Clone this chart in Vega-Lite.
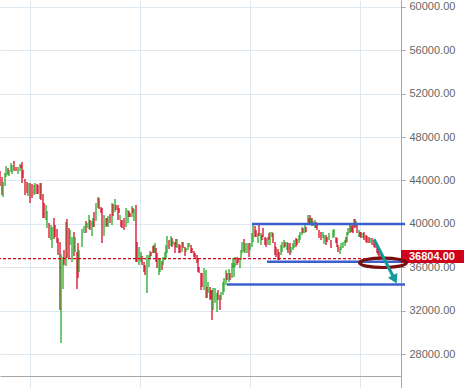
{
"$schema":"https://vega.github.io/schema/vega-lite/v6.json",
"width":401,"height":376,
"autosize":{"type":"none"},
"padding":{"left":0,"top":0,"right":63,"bottom":12},
"background":"white",
"config":{"view":{"stroke":null},"font":"Liberation Sans"},
"datasets":{
"candles":[
{"t":0,"o":44880,"c":43490},{"t":2,"o":44320,"c":42670},{"t":3,"o":42480,"c":43860},{"t":5,"o":43490,"c":44690},{"t":6,"o":44320,"c":45340},{"t":8,"o":45150,"c":44510},{"t":9,"o":44410,"c":44970},{"t":11,"o":44780,"c":45610},{"t":12,"o":44600,"c":45430},{"t":14,"o":45800,"c":44880},{"t":16,"o":45240,"c":44880},{"t":18,"o":44600,"c":45240},{"t":20,"o":44880,"c":45520},{"t":21,"o":45430,"c":45150},{"t":22,"o":45700,"c":43770},{"t":23,"o":44970,"c":44230},{"t":25,"o":44140,"c":42670},{"t":27,"o":43860,"c":42850},{"t":28,"o":42570,"c":43770},{"t":30,"o":43770,"c":41930},{"t":32,"o":43680,"c":42390},{"t":34,"o":42670,"c":43590},{"t":35,"o":42760,"c":43770},{"t":37,"o":43680,"c":42760},{"t":38,"o":43590,"c":42760},{"t":40,"o":42300,"c":43770},{"t":41,"o":43770,"c":42210},{"t":43,"o":42760,"c":40550},{"t":44,"o":41930,"c":40550},{"t":46,"o":40360,"c":41750},{"t":47,"o":39630,"c":41190},{"t":49,"o":40090,"c":38710},{"t":51,"o":38520,"c":39900},{"t":52,"o":37790,"c":39720},{"t":54,"o":40550,"c":38620},{"t":55,"o":39900,"c":38800},{"t":57,"o":39540,"c":38250},{"t":58,"o":38710,"c":37140},{"t":60,"o":38340,"c":32080},{"t":61,"o":29040,"c":37230},{"t":63,"o":34010,"c":36960},{"t":64,"o":37600,"c":36220},{"t":66,"o":36130,"c":40180},{"t":67,"o":40460,"c":36870},{"t":69,"o":39630,"c":36870},{"t":70,"o":38060,"c":39440},{"t":72,"o":36500,"c":38800},{"t":74,"o":39260,"c":37050},{"t":75,"o":37420,"c":38800},{"t":77,"o":37420,"c":34010},{"t":78,"o":38250,"c":35030},{"t":79,"o":35580,"c":37600},
{"t":82,"o":37880,"c":39540},{"t":84,"o":39170,"c":39810},{"t":86,"o":40270,"c":39170},{"t":87,"o":39630,"c":40090},{"t":89,"o":39540,"c":40820},{"t":90,"o":40360,"c":39440},{"t":92,"o":38890,"c":40270},{"t":93,"o":39720,"c":40550},{"t":94,"o":41100,"c":39720},{"t":96,"o":40270,"c":41930},{"t":98,"o":41470,"c":42480},{"t":99,"o":42390,"c":41380},{"t":101,"o":41560,"c":41010},{"t":102,"o":41470,"c":38250},{"t":104,"o":38890,"c":40820},{"t":106,"o":39720,"c":40550},{"t":107,"o":40550,"c":39810},{"t":108,"o":39720,"c":40730},{"t":110,"o":40920,"c":40090},{"t":112,"o":39900,"c":41930},{"t":113,"o":41840,"c":40730},{"t":115,"o":41100,"c":42300},{"t":116,"o":41750,"c":41280},{"t":118,"o":41750,"c":40360},{"t":119,"o":41470,"c":41010},{"t":120,"o":40360,"c":40820},{"t":121,"o":40360,"c":39720},{"t":122,"o":40360,"c":39630},{"t":124,"o":40550,"c":39440},{"t":126,"o":39720,"c":41470},{"t":128,"o":40090,"c":41280},{"t":129,"o":41190,"c":40640},{"t":130,"o":41010,"c":40640},{"t":132,"o":40640,"c":41650},{"t":133,"o":41470,"c":41010},{"t":134,"o":40270,"c":41380},{"t":136,"o":41750,"c":36500},{"t":137,"o":38340,"c":36500},{"t":139,"o":36220,"c":37880},{"t":141,"o":36500,"c":37420},{"t":142,"o":37050,"c":36220},{"t":144,"o":36500,"c":35580},{"t":145,"o":36220,"c":35300},{"t":147,"o":33640,"c":37140},{"t":149,"o":36040,"c":37140},{"t":150,"o":36870,"c":37510},{"t":151,"o":37420,"c":37050},{"t":153,"o":37970,"c":37330},{"t":154,"o":38060,"c":37330},{"t":155,"o":37330,"c":38250},{"t":156,"o":37790,"c":36500},{"t":157,"o":37330,"c":35950},
{"t":159,"o":35300,"c":36770},{"t":160,"o":35580,"c":36870},{"t":162,"o":36590,"c":35760},{"t":163,"o":36220,"c":36960},{"t":165,"o":36680,"c":37420},{"t":166,"o":36770,"c":38060},{"t":167,"o":37330,"c":38890},{"t":169,"o":38520,"c":37700},{"t":171,"o":37970,"c":38890},{"t":172,"o":38710,"c":37880},{"t":173,"o":38060,"c":38430},{"t":175,"o":38340,"c":37330},{"t":176,"o":38620,"c":37880},{"t":177,"o":37790,"c":38620},{"t":179,"o":38160,"c":37330},{"t":180,"o":38060,"c":37330},{"t":182,"o":37420,"c":38340},{"t":183,"o":38340,"c":37790},{"t":185,"o":37880,"c":37050},{"t":186,"o":37420,"c":37790},{"t":188,"o":37600,"c":38250},{"t":189,"o":37880,"c":38250},{"t":191,"o":38060,"c":37330},{"t":192,"o":37790,"c":37330},{"t":194,"o":37510,"c":36960},{"t":195,"o":37330,"c":36870},{"t":197,"o":37140,"c":36410},{"t":198,"o":36870,"c":35580},{"t":199,"o":36040,"c":35490},{"t":201,"o":35490,"c":33920},{"t":202,"o":35490,"c":34200},{"t":204,"o":33920,"c":35950},{"t":206,"o":33180,"c":35760},{"t":207,"o":34200,"c":33180},{"t":208,"o":33640,"c":34660},{"t":210,"o":34200,"c":33000},{"t":211,"o":33920,"c":33090},{"t":212,"o":33920,"c":31160},{"t":213,"o":32080,"c":34100},{"t":215,"o":32720,"c":34100},{"t":217,"o":31900,"c":33640},{"t":218,"o":33920,"c":33000},{"t":220,"o":33460,"c":32080},{"t":221,"o":33000,"c":33740},{"t":223,"o":33460,"c":34660},{"t":224,"o":33740,"c":35030},{"t":226,"o":34380,"c":35760},{"t":227,"o":35490,"c":34840},{"t":229,"o":34660,"c":35850},{"t":230,"o":35490,"c":34840},{"t":232,"o":35030,"c":36410},{"t":233,"o":35950,"c":36870},{"t":234,"o":35120,"c":36410},{"t":235,"o":36040,"c":36960},
{"t":237,"o":36960,"c":36220},{"t":238,"o":36870,"c":36410},{"t":240,"o":35950,"c":36870},{"t":241,"o":36680,"c":37600},{"t":242,"o":37330,"c":38340},{"t":244,"o":38620,"c":37420},{"t":245,"o":37330,"c":38250},{"t":247,"o":37330,"c":38250},{"t":249,"o":38250,"c":36960},{"t":250,"o":37600,"c":38250},{"t":252,"o":37880,"c":39170},{"t":253,"o":38340,"c":39900},{"t":255,"o":39810,"c":38800},{"t":256,"o":39440,"c":38800},{"t":258,"o":38250,"c":39170},{"t":259,"o":39900,"c":38890},{"t":261,"o":38060,"c":39170},{"t":262,"o":38980,"c":38520},{"t":263,"o":39630,"c":38800},{"t":265,"o":38800,"c":38060},{"t":266,"o":38710,"c":37880},{"t":268,"o":38060,"c":38800},{"t":269,"o":39170,"c":38520},{"t":270,"o":38060,"c":39260},{"t":272,"o":38800,"c":39260},{"t":273,"o":39170,"c":38250},{"t":275,"o":38340,"c":37140},{"t":276,"o":37880,"c":36960},{"t":278,"o":37700,"c":36680},{"t":279,"o":37420,"c":36680},{"t":281,"o":37140,"c":38060},{"t":282,"o":37420,"c":38340},{"t":284,"o":37790,"c":38520},{"t":285,"o":38340,"c":37880},{"t":287,"o":37600,"c":38340},{"t":288,"o":38250,"c":37330},{"t":290,"o":38250,"c":37140},{"t":291,"o":37330,"c":37880},{"t":293,"o":37600,"c":38250},{"t":294,"o":37790,"c":38520},{"t":296,"o":38710,"c":37880},{"t":297,"o":38620,"c":38060},{"t":299,"o":38250,"c":38980},{"t":300,"o":38520,"c":39260},{"t":302,"o":38980,"c":39720},{"t":303,"o":39630,"c":39170},{"t":305,"o":39170,"c":39900},{"t":306,"o":39720,"c":39260},{"t":308,"o":39900,"c":40820},{"t":309,"o":40550,"c":39900},{"t":310,"o":40820,"c":40000},{"t":311,"o":39900,"c":40550},{"t":312,"o":40550,"c":39810},
{"t":313,"o":39810,"c":40270},{"t":315,"o":39630,"c":40360},{"t":316,"o":40180,"c":39630},{"t":317,"o":39900,"c":39440},{"t":319,"o":39440,"c":38710},{"t":321,"o":39260,"c":38520},{"t":323,"o":38710,"c":39260},{"t":324,"o":38160,"c":38980},{"t":326,"o":38980,"c":38060},{"t":327,"o":38800,"c":38340},{"t":329,"o":38520,"c":39170},{"t":331,"o":38520,"c":37790},{"t":333,"o":38710,"c":39440},{"t":334,"o":38800,"c":39540},{"t":336,"o":38800,"c":38250},{"t":337,"o":38710,"c":37880},{"t":338,"o":38060,"c":37420},{"t":340,"o":37230,"c":37880},{"t":341,"o":37600,"c":38250},{"t":343,"o":37790,"c":38340},{"t":345,"o":37970,"c":38520},{"t":346,"o":38800,"c":38250},{"t":347,"o":38340,"c":39260},{"t":348,"o":38980,"c":39630},{"t":350,"o":40090,"c":39170},{"t":351,"o":39260,"c":39900},{"t":352,"o":39810,"c":39260},{"t":353,"o":40090,"c":39170},{"t":354,"o":39720,"c":40460},{"t":355,"o":40460,"c":39630},{"t":356,"o":39720,"c":40270},{"t":357,"o":40090,"c":39170},{"t":359,"o":38800,"c":39440},{"t":360,"o":39260,"c":38800},{"t":361,"o":39260,"c":38710},{"t":363,"o":38710,"c":39170},{"t":364,"o":39260,"c":38520},{"t":366,"o":38980,"c":38340},{"t":367,"o":38890,"c":38250},{"t":369,"o":38800,"c":38250},{"t":370,"o":38250,"c":38710},{"t":372,"o":38710,"c":38060},{"t":374,"o":38430,"c":37880},{"t":375,"o":38520,"c":37790},{"t":377,"o":38250,"c":37330},{"t":378,"o":37790,"c":37140},{"t":379,"o":37600,"c":36870},{"t":381,"o":37330,"c":36804}
],
"levels":[{"from":252,"to":405,"price":40000},{"from":267,"to":405,"price":36520},{"from":227,"to":405,"price":34430}],
"last":[{"price":36804,"label":"36804.00"}],
"arrow":[{"t1":374,"p1":38590,"t2":394.5,"p2":34930}],
"head":[{"t":394.7,"p":34900}],
"ring":[{"t":383,"p":36420}]
},
"layer":[
{"data":{"name":"candles"},
 "mark":{"type":"rule","strokeWidth":1.25},
 "encoding":{
  "x":{"field":"t","type":"quantitative","scale":{"domain":[0,401],"nice":false,"zero":false},
   "axis":{"values":[30,140,250,360,401],"labels":false,"title":null,"tickSize":12,"grid":true,
    "tickColor":{"condition":{"test":"datum.value == 401","value":"#a6a6a6"},"value":"#dde8f0"},
    "gridColor":{"condition":{"test":"datum.value == 401","value":"#a6a6a6"},"value":"#dde8f0"},
    "domainColor":"#a6a6a6"}},
  "y":{"field":"o","type":"quantitative","scale":{"domain":[26000,60617],"nice":false,"zero":false},
   "axis":{"orient":"right","values":[28000,32000,36000,40000,44000,48000,52000,56000,60000],"format":".2f","title":null,
    "tickSize":4,"tickColor":"#a6a6a6","domainColor":"#a6a6a6","gridColor":"#dde8f0","grid":true,
    "labelColor":"#666666","labelFontSize":11,"labelPadding":4,"labelFont":"Liberation Sans"}},
  "y2":{"field":"c"},
  "color":{"condition":{"test":"datum.c >= datum.o","value":"#1ea71e"},"value":"#d6001c"}
 }},
{"data":{"name":"last"},
 "mark":{"type":"rule","color":"#d6001c","strokeDash":[3,2],"strokeWidth":1.2},
 "encoding":{"y":{"field":"price","type":"quantitative"}}},
{"data":{"name":"levels"},
 "mark":{"type":"rule","color":"#3b5fcc","strokeWidth":2.4},
 "encoding":{"x":{"field":"from","type":"quantitative"},"x2":{"field":"to"},"y":{"field":"price","type":"quantitative"}}},
{"data":{"name":"last"},
 "mark":{"type":"rect","color":"#d0021b"},
 "encoding":{"x":{"datum":401},"x2":{"datum":470},"y":{"datum":37600},"y2":{"datum":36400}}},
{"data":{"name":"last"},
 "mark":{"type":"text","align":"left","baseline":"middle","dx":8,"dy":-2,"fontSize":11,"fontWeight":"bold","color":"white","font":"Liberation Sans"},
 "encoding":{"x":{"datum":401},"y":{"field":"price","type":"quantitative"},"text":{"field":"label"}}},
{"data":{"name":"ring"},
 "mark":{"type":"point","shape":"M-1,0A1,0.2,0,1,0,1,0A1,0.2,0,1,0,-1,0Z","size":2200,"filled":false,"stroke":"#7a0d0d","strokeWidth":3.2,"opacity":1},
 "encoding":{"x":{"field":"t","type":"quantitative"},"y":{"field":"p","type":"quantitative"}}},
{"data":{"name":"arrow"},
 "mark":{"type":"rule","color":"#14999b","strokeWidth":3},
 "encoding":{"x":{"field":"t1","type":"quantitative"},"y":{"field":"p1","type":"quantitative"},"x2":{"field":"t2"},"y2":{"field":"p2"}}},
{"data":{"name":"head"},
 "mark":{"type":"point","shape":"triangle-down","size":110,"angle":333,"filled":true,"color":"#14999b","opacity":1},
 "encoding":{"x":{"field":"t","type":"quantitative"},"y":{"field":"p","type":"quantitative"}}}
]
}
